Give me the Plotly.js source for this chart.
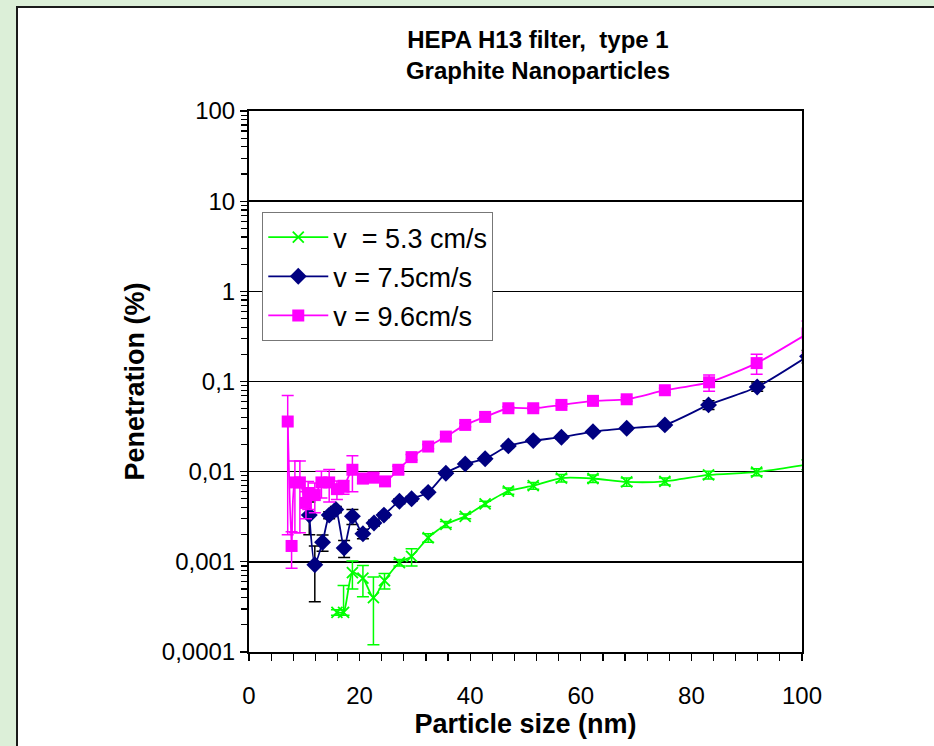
<!DOCTYPE html>
<html>
<head>
<meta charset="utf-8">
<script src="https://cdn.plot.ly/plotly-3.0.1.min.js"></script>
<style>
  html, body { margin: 0; padding: 0; background: #dcefd8; }
  #chart { width: 934px; height: 746px; }
</style>
</head>
<body>
<div id="chart"></div>
<script>
// ---- Data ----
const sizeV96 = [7.0, 7.7, 8.3, 9.2, 10.3, 10.7, 11.9, 13.1, 14.5, 15.9, 17.1, 18.7, 20.6, 22.5, 24.6, 27.0, 29.4, 32.4, 35.6, 39.1, 42.7, 46.9, 51.4, 56.5, 62.2, 68.3, 75.2, 83.2, 91.8, 101];
const penV96  = [0.036, 0.0015, 0.0076, 0.0076, 0.0045, 0.0058, 0.0055, 0.0076, 0.0076, 0.0064, 0.0068, 0.0105, 0.0084, 0.0086, 0.0078, 0.0105, 0.0145, 0.019, 0.0245, 0.033, 0.0405, 0.0505, 0.0505, 0.055, 0.061, 0.0635, 0.08, 0.098, 0.16, 0.34];
const errV96  = [0.034, 0.00065, 0.0055, 0.0055, 0.0015, 0.002, 0.002, 0.0025, 0.003, 0.0015, 0.0012, 0.0045, 0.001, 0.001, 0.0008, 0.001, 0.001, 0.001, 0.0012, 0.0015, 0.0015, 0.002, 0.002, 0.002, 0.003, 0.003, 0.004, 0.02, 0.04, 0.13];

const sizeV75 = [10.9, 11.9, 13.3, 14.5, 15.7, 17.2, 18.7, 20.6, 22.6, 24.4, 27.2, 29.4, 32.4, 35.6, 39.1, 42.7, 46.9, 51.4, 56.5, 62.2, 68.3, 75.2, 83.1, 91.9, 101];
const penV75  = [0.0033, 0.00093, 0.00165, 0.0033, 0.0038, 0.00142, 0.0032, 0.00205, 0.0027, 0.0033, 0.0047, 0.005, 0.0059, 0.0096, 0.0122, 0.0139, 0.0193, 0.0221, 0.0241, 0.0278, 0.0303, 0.033, 0.055, 0.087, 0.19];
const errV75  = [0.0013, 0.00057, 0.00034, 0.0003, 0.0003, 0.0003, 0.0006, 0.00025, 0.0002, 0.0002, 0.0003, 0.0003, 0.0003, 0.0005, 0.0005, 0.0006, 0.0008, 0.0008, 0.001, 0.001, 0.0012, 0.0015, 0.006, 0.009, 0.03];

const sizeV53 = [15.9, 17.1, 18.7, 20.6, 22.5, 24.5, 27.2, 29.4, 32.4, 35.6, 39.1, 42.7, 46.9, 51.4, 56.5, 62.2, 68.3, 75.2, 83.1, 91.8, 101];
const penV53  = [0.000275, 0.000275, 0.00076, 0.00066, 0.0004, 0.00062, 0.00098, 0.00115, 0.00185, 0.0026, 0.0032, 0.0044, 0.0061, 0.007, 0.0085, 0.0084, 0.0077, 0.0078, 0.0092, 0.0099, 0.012];
const errV53up   = [0.00002, 0.00027, 0.00026, 0.00025, 0.00028, 0.00012, 0.00008, 0.00025, 0.0002, 0.0002, 0.0002, 0.0003, 0.0005, 0.0006, 0.0008, 0.0008, 0.0008, 0.0007, 0.0009, 0.0009, 0.0015];
const errV53down = [0.00002, 0.00002, 0.00026, 0.00025, 0.00028, 0.00012, 0.00008, 0.00025, 0.0002, 0.0002, 0.0002, 0.0003, 0.0005, 0.0006, 0.0008, 0.0008, 0.0008, 0.0007, 0.0009, 0.0009, 0.0015];

const seriesNames = ["v\u00a0\u00a0= 5.3 cm/s", "v = 7.5cm/s", "v = 9.6cm/s"];
const yTickVals = [0.0001, 0.001, 0.01, 0.1, 1, 10, 100];
const yTickText = ["0,0001", "0,001", "0,01", "0,1", "1", "10", "100"];
const xTickVals = [0, 20, 40, 60, 80, 100];

const FONT = "Liberation Sans, Arial, sans-serif";

const traces = [
  {
    x: sizeV53, y: penV53, name: seriesNames[0], legendgroup: "a",
    type: "scatter", mode: "lines+markers",
    line: { color: "#00ff00", width: 1.8, shape: "spline", smoothing: 0.6 },
    marker: { symbol: "x-thin-open", size: 11, color: "#00ff00", line: { color: "#00ff00", width: 1.8 } },
    error_y: { type: "data", symmetric: false, array: errV53up, arrayminus: errV53down, visible: true, color: "#00ff00", thickness: 1.5, width: 6 }
  },
  {
    x: sizeV75, y: penV75, name: seriesNames[1], legendgroup: "b",
    type: "scatter", mode: "lines+markers",
    line: { color: "#000080", width: 1.8, shape: "spline", smoothing: 0.6 },
    marker: { symbol: "diamond", size: 13, color: "#000080" },
    error_y: { type: "data", array: errV75, visible: true, color: "#000000", thickness: 1.5, width: 6 }
  },
  {
    x: sizeV96, y: penV96, name: seriesNames[2], legendgroup: "c",
    type: "scatter", mode: "lines+markers",
    line: { color: "#ff00ff", width: 1.8, shape: "spline", smoothing: 0.6 },
    marker: { symbol: "square", size: 12, color: "#ff00ff" },
    error_y: { type: "data", array: errV96, visible: true, color: "#ff00ff", thickness: 1.5, width: 6 }
  }
];

const layout = {
  width: 934, height: 746,
  paper_bgcolor: "#dcefd8",
  plot_bgcolor: "#ffffff",
  margin: { l: 249, r: 132, t: 111, b: 94 },
  font: { family: FONT, color: "#000000", size: 24 },
  title: {
    text: "<b>HEPA H13 filter,\u00a0\u00a0type 1</b><br><b>Graphite Nanoparticles</b>",
    font: { family: FONT, size: 24, color: "#000000" },
    x: 0.5226, xanchor: "center", xref: "paper",
    y: 0.936, yanchor: "top", yref: "container"
  },
  xaxis: {
    type: "linear", range: [0, 100],
    tickvals: xTickVals, ticks: "outside", ticklen: 7, tickwidth: 1.2, tickcolor: "#000",
    ticklabelstandoff: 14,
    minor: { dtick: 4, tick0: 0, ticks: "outside", ticklen: 7, tickwidth: 1.2, tickcolor: "#000", showgrid: false },
    showgrid: false, zeroline: false,
    showline: true, linecolor: "#000", linewidth: 2, mirror: true,
    tickfont: { family: FONT, size: 24 },
    title: { text: "<b>Particle size (nm)</b>", font: { family: FONT, size: 27 }, standoff: 2 }
  },
  yaxis: {
    type: "log", range: [-4, 2],
    tickvals: yTickVals, ticktext: yTickText,
    ticks: "outside", ticklen: 7, tickwidth: 1.2, tickcolor: "#000",
    minor: { dtick: "D1", ticks: "outside", ticklen: 6, tickwidth: 1.2, tickcolor: "#000", showgrid: false },
    showgrid: true, gridcolor: "#000", gridwidth: 1.6,
    zeroline: false,
    showline: true, linecolor: "#000", linewidth: 2, mirror: true,
    tickfont: { family: FONT, size: 24 },
    title: { text: "<b>Penetration (%)</b>", font: { family: FONT, size: 27 }, standoff: 9 }
  },
  legend: {
    x: 0.024, y: 0.813, xanchor: "left", yanchor: "top",
    bgcolor: "#ffffff", bordercolor: "#777777", borderwidth: 1,
    font: { family: FONT, size: 27 },
    itemwidth: 60,
    traceorder: "grouped", tracegroupgap: 1
  },
  shapes: [
    {
      type: "rect", xref: "paper", yref: "paper", layer: "below",
      x0: (17 - 249) / 553, x1: 1.5, y0: -0.5, y1: (652 - 7) / 541,
      fillcolor: "#ffffff", line: { color: "#1a1a1a", width: 2 }
    }
  ],
  showlegend: true
};

Plotly.newPlot("chart", traces, layout, { displayModeBar: false, staticPlot: true });
</script>
</body>
</html>
